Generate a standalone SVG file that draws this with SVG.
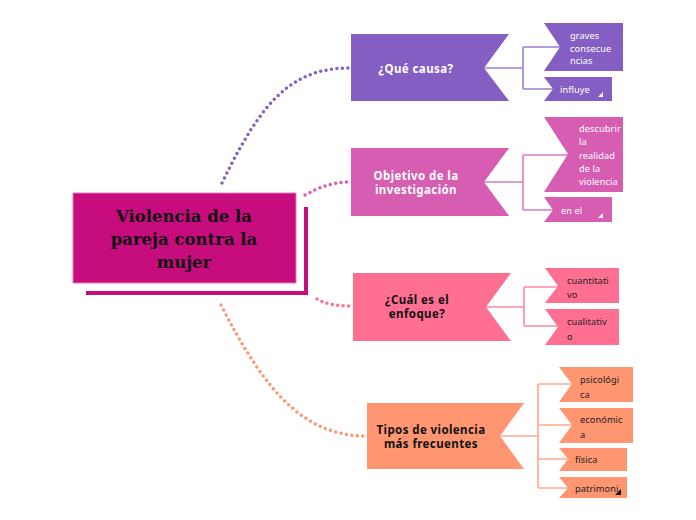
<svg xmlns="http://www.w3.org/2000/svg" width="696" height="520" viewBox="0 0 696 520">
<style>
.dot{fill:none;stroke-width:3.5;stroke-linecap:round;stroke-dasharray:0 5.5}
.br{fill:none;stroke-width:1.6}
.pt{font-family:"Noto Sans","Open Sans",sans-serif;font-weight:bold;font-size:11.5px;letter-spacing:0.4px;text-anchor:middle}
.ct{font-family:"Noto Sans","Open Sans",sans-serif;font-size:9.2px;fill:#fff;letter-spacing:0.1px}
.dk{fill:#222}
.title{font-family:"DejaVu Serif",serif;font-weight:bold;font-size:16.5px;text-anchor:middle;fill:#111}
</style>
<rect width="696" height="520" fill="#fff"/>
<g id="connectors">
<path class="dot" stroke="#845EC2" d="M222,183 C262,100 292,68 350,68"/>
<path class="dot" stroke="#D65DB1" d="M305,195 C320,187 332,182 350,182"/>
<path class="dot" stroke="#FF6F91" d="M317,299 C325,304 335,306 352,306"/>
<path class="dot" stroke="#FF9671" d="M221,305 C262,385 300,436 366,436"/>
<path class="br" stroke="#9D80D0" d="M484,68 H523 M523,47 V89 M523,47 H560 M523,89 H553"/>
<path class="br" stroke="#E07CC2" d="M484,182 H523 M523,155 V210 M523,155 H568 M523,210 H553"/>
<path class="br" stroke="#FF88A4" d="M486,307 H524 M524,287 V326 M524,287 H558 M524,326 H558"/>
<path class="br" stroke="#FFA988" d="M500,436 H538 M538,384 V488 M538,384 H572 M538,425 H572 M538,459 H568 M538,488 H568"/>
</g>
<g id="main">
<rect x="73" y="193" width="223" height="90" fill="#C70C7E" stroke="#E27BBC" stroke-width="1"/>
<path d="M86,293 H306 V207" fill="none" stroke="#C70C7E" stroke-width="4"/>
<text class="title" x="184" y="222">Violencia de la</text>
<text class="title" x="184" y="245">pareja contra la</text>
<text class="title" x="184" y="268">mujer</text>
</g>
<g id="n1">
<path d="M351,34 H509 L484,68 L509,101 H351 Z" fill="#845EC2"/>
<text class="pt" x="416" y="73" fill="#fff">¿Qué causa?</text>
</g>
<g id="n1a">
<path d="M544,23 H623 V71 H544 L560,47 Z" fill="#845EC2"/>
<text class="ct" x="570" y="39">graves</text>
<text class="ct" x="570" y="52">consecue</text>
<text class="ct" x="570" y="64">ncias</text>
</g>
<g id="n1b">
<path d="M544,77 H612 V101 H544 L553,89 Z" fill="#845EC2"/>
<text class="ct" x="560" y="93">influye</text>
<path d="M603,97 L603,92 L598,97 Z" fill="#fff"/>
</g>
<g id="n2">
<path d="M351,148 H509 L484,182 L509,216 H351 Z" fill="#D65DB1"/>
<text class="pt" x="416" y="180" fill="#fff">Objetivo de la</text>
<text class="pt" x="416" y="194" fill="#fff">investigación</text>
</g>
<g id="n2a">
<path d="M544,117 H623 V192 H544 L568,154 Z" fill="#D65DB1"/>
<text class="ct" x="579" y="132">descubrir</text>
<text class="ct" x="579" y="145">la</text>
<text class="ct" x="579" y="159">realidad</text>
<text class="ct" x="579" y="172">de la</text>
<text class="ct" x="579" y="185">violencia</text>
</g>
<g id="n2b">
<path d="M544,197 H612 V222 H544 L553,210 Z" fill="#D65DB1"/>
<text class="ct" x="561" y="214">en el</text>
<path d="M603,218 L603,213 L598,218 Z" fill="#fff"/>
</g>
<g id="n3">
<path d="M353,273 H511 L486,307 L511,341 H353 Z" fill="#FF6F91"/>
<text class="pt" x="417" y="304" fill="#111">¿Cuál es el</text>
<text class="pt" x="417" y="318" fill="#111">enfoque?</text>
</g>
<g id="n3a">
<path d="M545,268 H619 V303 H545 L558,286 Z" fill="#FF6F91"/>
<text class="ct dk" x="567" y="284">cuantitati</text>
<text class="ct dk" x="567" y="298">vo</text>
</g>
<g id="n3b">
<path d="M545,309 H619 V345 H545 L558,327 Z" fill="#FF6F91"/>
<text class="ct dk" x="567" y="325">cualitativ</text>
<text class="ct dk" x="567" y="340">o</text>
</g>
<g id="n4">
<path d="M367,403 H524 L500,436 L524,469 H367 Z" fill="#FF9671"/>
<text class="pt" x="431" y="434" fill="#111">Tipos de violencia</text>
<text class="pt" x="431" y="448" fill="#111">más frecuentes</text>
</g>
<g id="n4a">
<path d="M559,367 H633 V402 H559 L572,384 Z" fill="#FF9671"/>
<text class="ct dk" x="580" y="383">psicológi</text>
<text class="ct dk" x="580" y="398">ca</text>
</g>
<g id="n4b">
<path d="M559,408 H633 V443 H559 L572,425 Z" fill="#FF9671"/>
<text class="ct dk" x="580" y="423">económic</text>
<text class="ct dk" x="580" y="438">a</text>
</g>
<g id="n4c">
<path d="M559,448 H627 V471 H559 L568,459 Z" fill="#FF9671"/>
<text class="ct dk" x="575" y="463">física</text>
</g>
<g id="n4d">
<path d="M559,477 H627 V498 H559 L568,488 Z" fill="#FF9671"/>
<text class="ct dk" x="575" y="492">patrimoni</text>
<path d="M621,495 L621,489 L615,495 Z" fill="#111"/>
</g>
</svg>
